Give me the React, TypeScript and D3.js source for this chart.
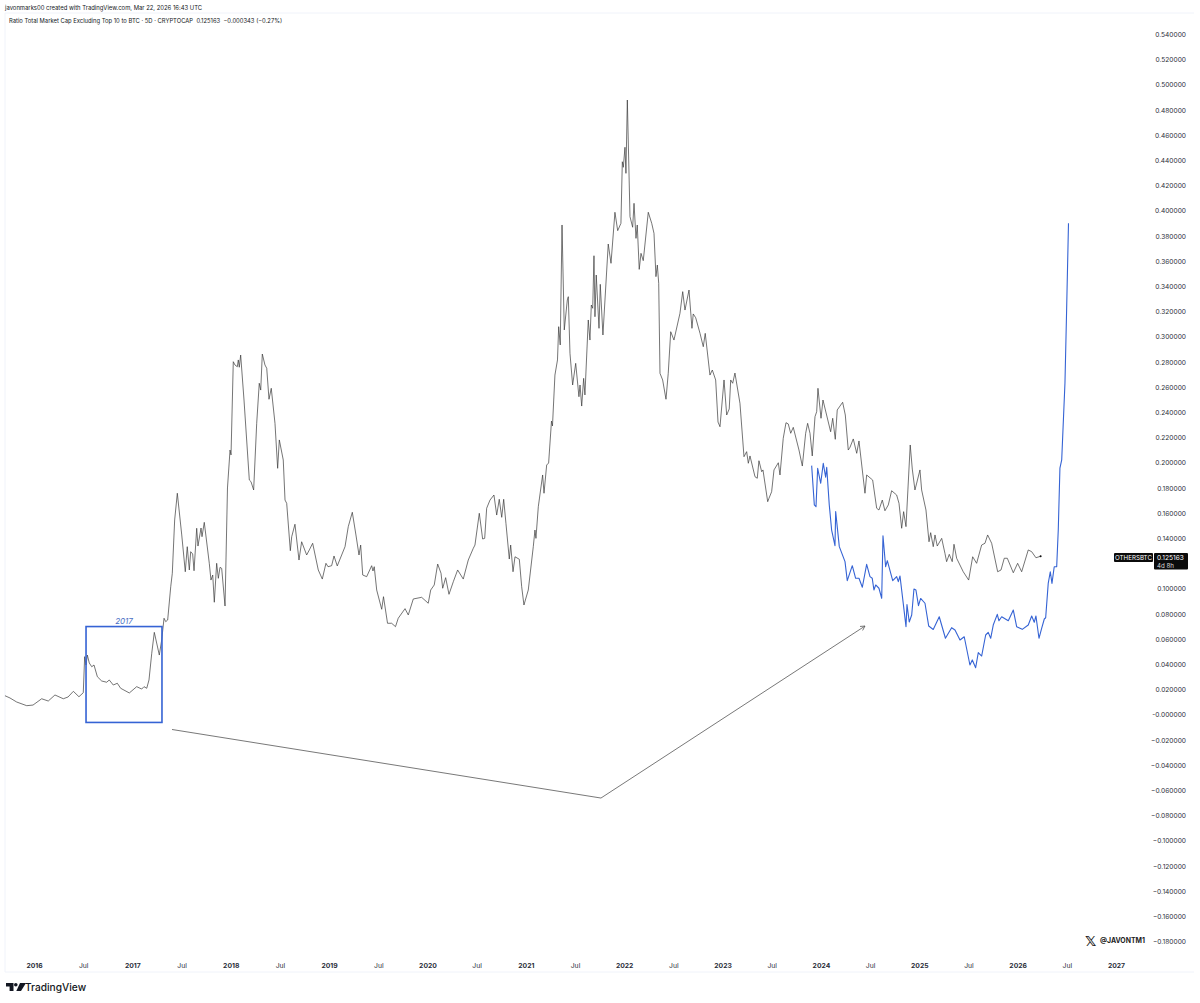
import React, {useEffect, useRef} from 'react'
import * as d3 from 'd3'

const width = 1200
const height = 1003

// [decimal year, ratio]
const othersBtc: [number, number][] = [
  [2015.705,.0145],[2015.756,.0127],[2015.824,.0095],[2015.926,.0066],[2015.990,.0071],[2016.078,.0121],[2016.145,.0103],[2016.213,.0151],
  [2016.298,.0121],[2016.346,.0135],[2016.400,.0180],[2016.457,.0137],[2016.501,.0169],[2016.515,.0455],[2016.529,.0389],[2016.542,.0468],
  [2016.562,.0405],[2016.587,.0375],[2016.610,.0389],[2016.644,.0296],[2016.688,.0262],[2016.739,.0252],[2016.765,.0270],[2016.806,.0230],
  [2016.847,.0244],[2016.881,.0204],[2016.969,.0167],[2017.044,.0217],[2017.095,.0198],[2017.118,.0217],[2017.146,.0204],[2017.169,.0270],
  [2017.197,.0482],[2017.223,.0648],[2017.274,.0468],[2017.298,.0587],[2017.322,.0760],[2017.339,.0733],[2017.359,.0746],[2017.390,.1010],
  [2017.406,.1117],[2017.430,.1540],[2017.457,.1752],[2017.502,.1421],[2017.538,.1129],[2017.558,.1328],[2017.579,.1143],[2017.593,.1288],
  [2017.613,.1270],[2017.627,.1137],[2017.654,.1474],[2017.667,.1333],[2017.698,.1476],[2017.708,.1407],[2017.731,.1521],[2017.782,.1196],
  [2017.799,.1063],[2017.817,.1103],[2017.833,.0887],[2017.857,.1196],[2017.874,.1077],[2017.891,.1164],[2017.908,.1156],[2017.942,.0857],
  [2017.967,.1794],[2017.993,.2095],[2018.003,.2056],[2018.026,.2796],[2018.043,.2770],[2018.067,.2756],[2018.077,.2810],[2018.087,.2752],
  [2018.101,.2849],[2018.135,.2492],[2018.189,.1857],[2018.206,.1844],[2018.233,.1778],[2018.264,.2307],[2018.290,.2625],[2018.305,.2571],
  [2018.321,.2857],[2018.348,.2770],[2018.366,.2744],[2018.389,.2498],[2018.412,.2585],[2018.450,.2307],[2018.477,.1950],[2018.494,.2175],
  [2018.534,.2016],[2018.552,.1698],[2018.569,.1672],[2018.606,.1296],[2018.620,.1407],[2018.653,.1506],[2018.694,.1222],[2018.721,.1367],
  [2018.772,.1262],[2018.799,.1302],[2018.833,.1355],[2018.890,.1143],[2018.931,.1071],[2018.968,.1196],[2018.989,.1169],[2019.026,.1177],
  [2019.050,.1254],[2019.083,.1175],[2019.162,.1328],[2019.195,.1487],[2019.236,.1601],[2019.273,.1421],[2019.304,.1262],[2019.321,.1341],
  [2019.342,.1103],[2019.382,.1090],[2019.433,.1177],[2019.446,.1135],[2019.459,.1169],[2019.484,.0984],[2019.535,.0831],[2019.553,.0931],
  [2019.594,.0720],[2019.636,.0720],[2019.675,.0693],[2019.703,.0760],[2019.772,.0836],[2019.805,.0786],[2019.856,.0913],[2019.941,.0926],
  [2020.008,.0879],[2020.033,.0984],[2020.069,.1024],[2020.104,.1190],[2020.138,.1117],[2020.155,.0998],[2020.185,.1082],[2020.219,.0950],
  [2020.263,.1050],[2020.307,.1143],[2020.364,.1071],[2020.415,.1222],[2020.466,.1315],[2020.483,.1341],[2020.527,.1593],[2020.561,.1389],
  [2020.582,.1394],[2020.602,.1633],[2020.636,.1698],[2020.676,.1738],[2020.704,.1579],[2020.730,.1704],[2020.755,.1561],[2020.775,.1704],
  [2020.798,.1513],[2020.832,.1230],[2020.846,.1341],[2020.870,.1129],[2020.890,.1248],[2020.934,.1228],[2020.958,.1010],[2020.981,.0865],
  [2021.025,.0984],[2021.076,.1328],[2021.093,.1460],[2021.103,.1394],[2021.127,.1645],[2021.139,.1714],[2021.171,.1897],[2021.185,.1752],
  [2021.212,.1976],[2021.232,.1992],[2021.261,.2325],[2021.271,.2286],[2021.296,.2690],[2021.322,.2810],[2021.334,.3074],[2021.350,.2929],
  [2021.368,.3881],[2021.391,.3048],[2021.422,.3286],[2021.432,.3312],[2021.449,.2863],[2021.476,.2611],[2021.507,.2783],[2021.540,.2518],
  [2021.551,.2611],[2021.568,.2444],[2021.588,.2664],[2021.601,.2532],[2021.635,.3127],[2021.652,.2968],[2021.666,.3246],[2021.680,.3220],
  [2021.693,.3637],[2021.703,.3153],[2021.716,.3484],[2021.744,.3061],[2021.757,.3410],[2021.784,.3008],[2021.838,.3730],[2021.866,.3577],
  [2021.906,.3982],[2021.934,.3836],[2021.967,.3894],[2021.981,.4383],[2021.991,.4339],[2022.008,.4498],[2022.018,.4291],[2022.032,.4873],
  [2022.059,.3947],[2022.086,.3863],[2022.100,.4053],[2022.120,.3775],[2022.133,.3881],[2022.153,.3529],[2022.171,.3656],[2022.194,.3598],
  [2022.245,.3982],[2022.280,.3894],[2022.303,.3815],[2022.323,.3471],[2022.337,.3563],[2022.351,.3418],[2022.364,.2704],[2022.391,.2651],
  [2022.425,.2498],[2022.448,.2704],[2022.473,.3034],[2022.506,.2968],[2022.567,.3180],[2022.595,.3352],[2022.618,.3206],[2022.659,.3365],
  [2022.689,.3061],[2022.702,.3175],[2022.727,.3145],[2022.771,.3021],[2022.804,.2915],[2022.824,.3021],[2022.872,.2690],[2022.896,.2730],
  [2022.930,.2651],[2022.954,.2317],[2022.974,.2280],[2023.015,.2651],[2023.042,.2373],[2023.068,.2421],[2023.083,.2651],[2023.103,.2625],
  [2023.126,.2706],[2023.177,.2466],[2023.218,.2042],[2023.245,.2082],[2023.262,.1990],[2023.279,.2048],[2023.330,.1883],[2023.353,.1871],
  [2023.370,.2010],[2023.398,.1923],[2023.411,.1937],[2023.459,.1685],[2023.472,.1712],[2023.499,.1764],[2023.523,.1937],[2023.567,.1994],
  [2023.584,.1897],[2023.617,.2188],[2023.645,.2312],[2023.668,.2302],[2023.693,.2228],[2023.719,.2275],[2023.777,.2095],[2023.811,.1968],
  [2023.845,.2228],[2023.865,.2307],[2023.889,.2228],[2023.912,.2048],[2023.940,.2360],[2023.957,.2399],[2023.970,.2585],[2024.001,.2347],
  [2024.021,.2492],[2024.099,.2240],[2024.120,.2347],[2024.146,.2180],[2024.166,.2413],[2024.194,.2444],[2024.221,.2474],[2024.248,.2373],
  [2024.278,.2095],[2024.296,.2117],[2024.329,.2183],[2024.364,.2069],[2024.387,.2167],[2024.448,.1752],[2024.465,.1897],[2024.526,.1857],
  [2024.567,.1633],[2024.590,.1619],[2024.624,.1698],[2024.651,.1613],[2024.685,.1659],[2024.719,.1772],[2024.770,.1738],[2024.794,.1672],
  [2024.821,.1474],[2024.841,.1606],[2024.865,.1487],[2024.908,.2135],[2024.929,.1944],[2024.956,.1778],[2024.974,.1833],[2025.007,.1937],
  [2025.024,.1778],[2025.068,.1619],[2025.099,.1367],[2025.116,.1439],[2025.142,.1328],[2025.160,.1421],[2025.183,.1333],[2025.228,.1394],
  [2025.261,.1275],[2025.278,.1209],[2025.305,.1267],[2025.335,.1209],[2025.353,.1347],[2025.380,.1236],[2025.447,.1129],[2025.502,.1063],
  [2025.543,.1248],[2025.583,.1196],[2025.634,.1341],[2025.668,.1355],[2025.695,.1421],[2025.736,.1355],[2025.797,.1129],[2025.831,.1143],
  [2025.864,.1236],[2025.895,.1236],[2025.956,.1121],[2026.000,.1196],[2026.041,.1129],[2026.108,.1302],[2026.143,.1288],[2026.186,.1240],
  [2026.234,.1252],
]

// the projected fractal drawn in blue
const projection: [number, number][] = [
  [2023.906,.1971],[2023.933,.1659],[2023.950,.1645],[2023.967,.1950],[2023.998,.1831],[2024.024,.1990],[2024.048,.1879],[2024.059,.1958],
  [2024.085,.1659],[2024.109,.1460],[2024.143,.1336],[2024.150,.1606],[2024.187,.1328],[2024.245,.1209],[2024.268,.1058],[2024.319,.1177],
  [2024.353,.1077],[2024.387,.1077],[2024.421,.1006],[2024.465,.1188],[2024.499,.1090],[2024.522,.1077],[2024.539,.0984],[2024.557,.1024],
  [2024.590,.0998],[2024.618,.0918],[2024.631,.1415],[2024.658,.1169],[2024.675,.1217],[2024.730,.1058],[2024.770,.1090],[2024.787,.1050],
  [2024.804,.1095],[2024.865,.0693],[2024.875,.0869],[2024.898,.0730],[2024.923,.0786],[2024.946,.0992],[2024.966,.0984],[2024.992,.0860],
  [2025.014,.0917],[2025.058,.0879],[2025.096,.0698],[2025.142,.0671],[2025.203,.0772],[2025.266,.0601],[2025.329,.0685],[2025.363,.0667],
  [2025.414,.0587],[2025.457,.0613],[2025.515,.0389],[2025.539,.0429],[2025.573,.0367],[2025.600,.0487],[2025.634,.0460],[2025.675,.0627],
  [2025.701,.0648],[2025.726,.0601],[2025.752,.0706],[2025.793,.0791],[2025.810,.0740],[2025.838,.0772],[2025.905,.0740],[2025.956,.0825],
  [2025.990,.0693],[2026.047,.0672],[2026.108,.0706],[2026.143,.0778],[2026.169,.0728],[2026.186,.0778],[2026.217,.0601],[2026.244,.0680],
  [2026.271,.0754],[2026.285,.0764],[2026.311,.1037],[2026.332,.1129],[2026.349,.1037],[2026.372,.1169],[2026.397,.1169],[2026.413,.1460],
  [2026.430,.1952],[2026.448,.2016],[2026.481,.2625],[2026.498,.3206],[2026.517,.3894],
]

const connector: [number, number][] = [[2017.403, -.0123], [2021.764, -.0667], [2024.448, .0698]]
const boxDates = [2016.529, 2017.301]
const boxValues = [.0694, -.0067]

const priceTicks = [.54, .52, .5, .48, .46, .44, .42, .4, .38, .36, .34, .32, .3, .28, .26, .24, .22, .2, .18, .16, .14,
  .1, .08, .06, .04, .02, 0, -.02, -.04, -.06, -.08, -.1, -.12, -.14, -.16, -.18]
const years = [2016, 2017, 2018, 2019, 2020, 2021, 2022, 2023, 2024, 2025, 2026, 2027]
const julys = [2016.5, 2017.5, 2018.5, 2019.5, 2020.5, 2021.5, 2022.5, 2023.5, 2024.5, 2025.5, 2026.5]

const FONT = 'Inter, Roboto, sans-serif'
const BLUE = '#3563d4'

const App = () => {
  const ref = useRef<SVGSVGElement>(null)

  useEffect(() => {
    const svg = d3.select(ref.current)
    svg.selectAll('*').remove()

    const x = d3.scaleLinear().domain([2016, 2027]).range([34, 1116])
    const y = d3.scaleLinear().domain([0, .54]).range([714, 33.6])

    // frame
    const frame = svg.append('g').attr('stroke', '#f0f3fa').attr('fill', 'none')
    frame.append('path').attr('d', 'M5 13H1194M5 13V972M5 972H1194')

    // price axis
    const right = svg.append('g')
      .attr('transform', 'translate(1186,0.7)')
      .call(d3.axisLeft(y)
        .tickValues(priceTicks)
        .tickSize(0)
        .tickPadding(0)
        .tickFormat(d => (+d === 0 ? '-' : +d < 0 ? '\u2212' : '') + Math.abs(+d).toFixed(6)))
    right.select('.domain').remove()
    right.selectAll('text').attr('font-family', FONT).attr('font-size', 6.6).attr('fill', '#2a2e39')

    // time axis
    const addTimeAxis = (values: number[], fmt: (d: number) => string, weight: number) => {
      const g = svg.append('g')
        .attr('transform', 'translate(0,966)')
        .call(d3.axisBottom(x).tickValues(values).tickSize(0).tickPadding(0).tickFormat(d => fmt(+d)))
      g.select('.domain').remove()
      g.selectAll('text')
        .attr('dy', '0.32em')
        .attr('y', 0)
        .attr('font-family', FONT)
        .attr('font-size', 6.8)
        .attr('font-weight', weight)
        .attr('fill', '#2a2e39')
    }
    addTimeAxis(years, d => String(d), 700)
    addTimeAxis(julys, () => 'Jul', 400)

    const line = d3.line<[number, number]>().x(d => x(d[0])).y(d => y(d[1]))

    svg.append('path')
      .datum(othersBtc)
      .attr('fill', 'none')
      .attr('stroke', '#3a3a3a')
      .attr('stroke-width', 0.7)
      .attr('stroke-linejoin', 'round')
      .attr('d', line)

    const last = othersBtc[othersBtc.length - 1]
    svg.append('circle').attr('cx', x(last[0])).attr('cy', y(last[1])).attr('r', 1).attr('fill', '#111')

    svg.append('path')
      .datum(projection)
      .attr('fill', 'none')
      .attr('stroke', BLUE)
      .attr('stroke-width', 1.1)
      .attr('stroke-linejoin', 'round')
      .attr('d', line)

    // 2017 box
    svg.append('rect')
      .attr('x', x(boxDates[0]))
      .attr('y', y(boxValues[0]))
      .attr('width', x(boxDates[1]) - x(boxDates[0]))
      .attr('height', y(boxValues[1]) - y(boxValues[0]))
      .attr('fill', 'none')
      .attr('stroke', BLUE)
      .attr('stroke-width', 1.6)
    svg.append('text')
      .attr('x', (x(boxDates[0]) + x(boxDates[1])) / 2)
      .attr('y', y(boxValues[0]) - 2.5)
      .attr('text-anchor', 'middle')
      .attr('font-family', FONT)
      .attr('font-size', 8)
      .attr('font-style', 'italic')
      .attr('fill', '#4a6fc4')
      .text('2017')

    // connector and arrow head
    svg.append('path')
      .datum(connector)
      .attr('fill', 'none')
      .attr('stroke', '#555')
      .attr('stroke-width', 0.8)
      .attr('d', line)
    const [ax, ay] = [x(connector[1][0]), y(connector[1][1])]
    const [bx, by] = [x(connector[2][0]), y(connector[2][1])]
    const angle = Math.atan2(by - ay, bx - ax)
    const head = [angle - 0.5, angle + 0.5].map(a => `M${bx - 5 * Math.cos(a)} ${by - 5 * Math.sin(a)}L${bx} ${by}`).join('')
    svg.append('path').attr('d', head).attr('fill', 'none').attr('stroke', '#555').attr('stroke-width', 0.8)

    // header text
    const text = (tx: number, ty: number, s: string, size: number, opts: Record<string, string | number> = {}) => {
      const t = svg.append('text')
        .attr('x', tx).attr('y', ty)
        .attr('font-family', FONT).attr('font-size', size).attr('fill', '#2a2e39')
        .style('white-space', 'pre')
        .text(s)
      Object.entries(opts).forEach(([k, v]) => t.attr(k, v))
      return t
    }
    text(5, 10.3, 'javonmarks00 created with TradingView.com, Mar 22, 2026 16:43 UTC', 5.9, {fill: '#131722'})
    text(9, 23.3, 'Ratio Total Market Cap Excluding Top 10 to BTC \u00b7 5D \u00b7 CRYPTOCAP  0.125163  \u22120.000343 (\u22120.27%)', 5.85, {fill: '#131722'})

    // last price badge
    svg.append('rect').attr('x', 1114).attr('y', 553).attr('width', 39).attr('height', 9).attr('rx', 1).attr('fill', '#0b0b0b')
    svg.append('rect').attr('x', 1154).attr('y', 553).attr('width', 34).attr('height', 16.5).attr('rx', 1).attr('fill', '#0b0b0b')
    text(1133.5, 560, 'OTHERSBTC', 6.2, {fill: '#fff', 'text-anchor': 'middle'})
    text(1157, 560, '0.125163', 6.6, {fill: '#fff'})
    text(1157, 567.5, '4d 8h', 6.2, {fill: '#d8d8d8'})

    // watermark
    text(1085, 946, '\ud835\udd4f', 14, {fill: '#1a1a1a', 'font-family': 'DejaVu Sans', 'font-weight': 700})
    text(1100, 943, '@JAVONTM1', 6.9, {fill: '#222', 'font-weight': 700})

    // TradingView logo
    const logo = svg.append('g').attr('fill', '#131722').attr('transform', 'translate(6,983)')
    logo.append('path').attr('d', 'M0 0H7.5V8H3.6V3.6H0Z')
    logo.append('circle').attr('cx', 9.8).attr('cy', 1.8).attr('r', 1.8)
    logo.append('path').attr('d', 'M14 0H20L15 8H10.3Z')
    text(25, 991, 'TradingView', 10.2, {fill: '#131722', 'font-weight': 500})

    return () => { svg.selectAll('*').remove() }
  }, [])

  return (
    <svg ref={ref} width={width} height={height}
      style={{position: 'absolute', left: 0, top: 0, background: '#fff'}} />
  )
}

export default App
